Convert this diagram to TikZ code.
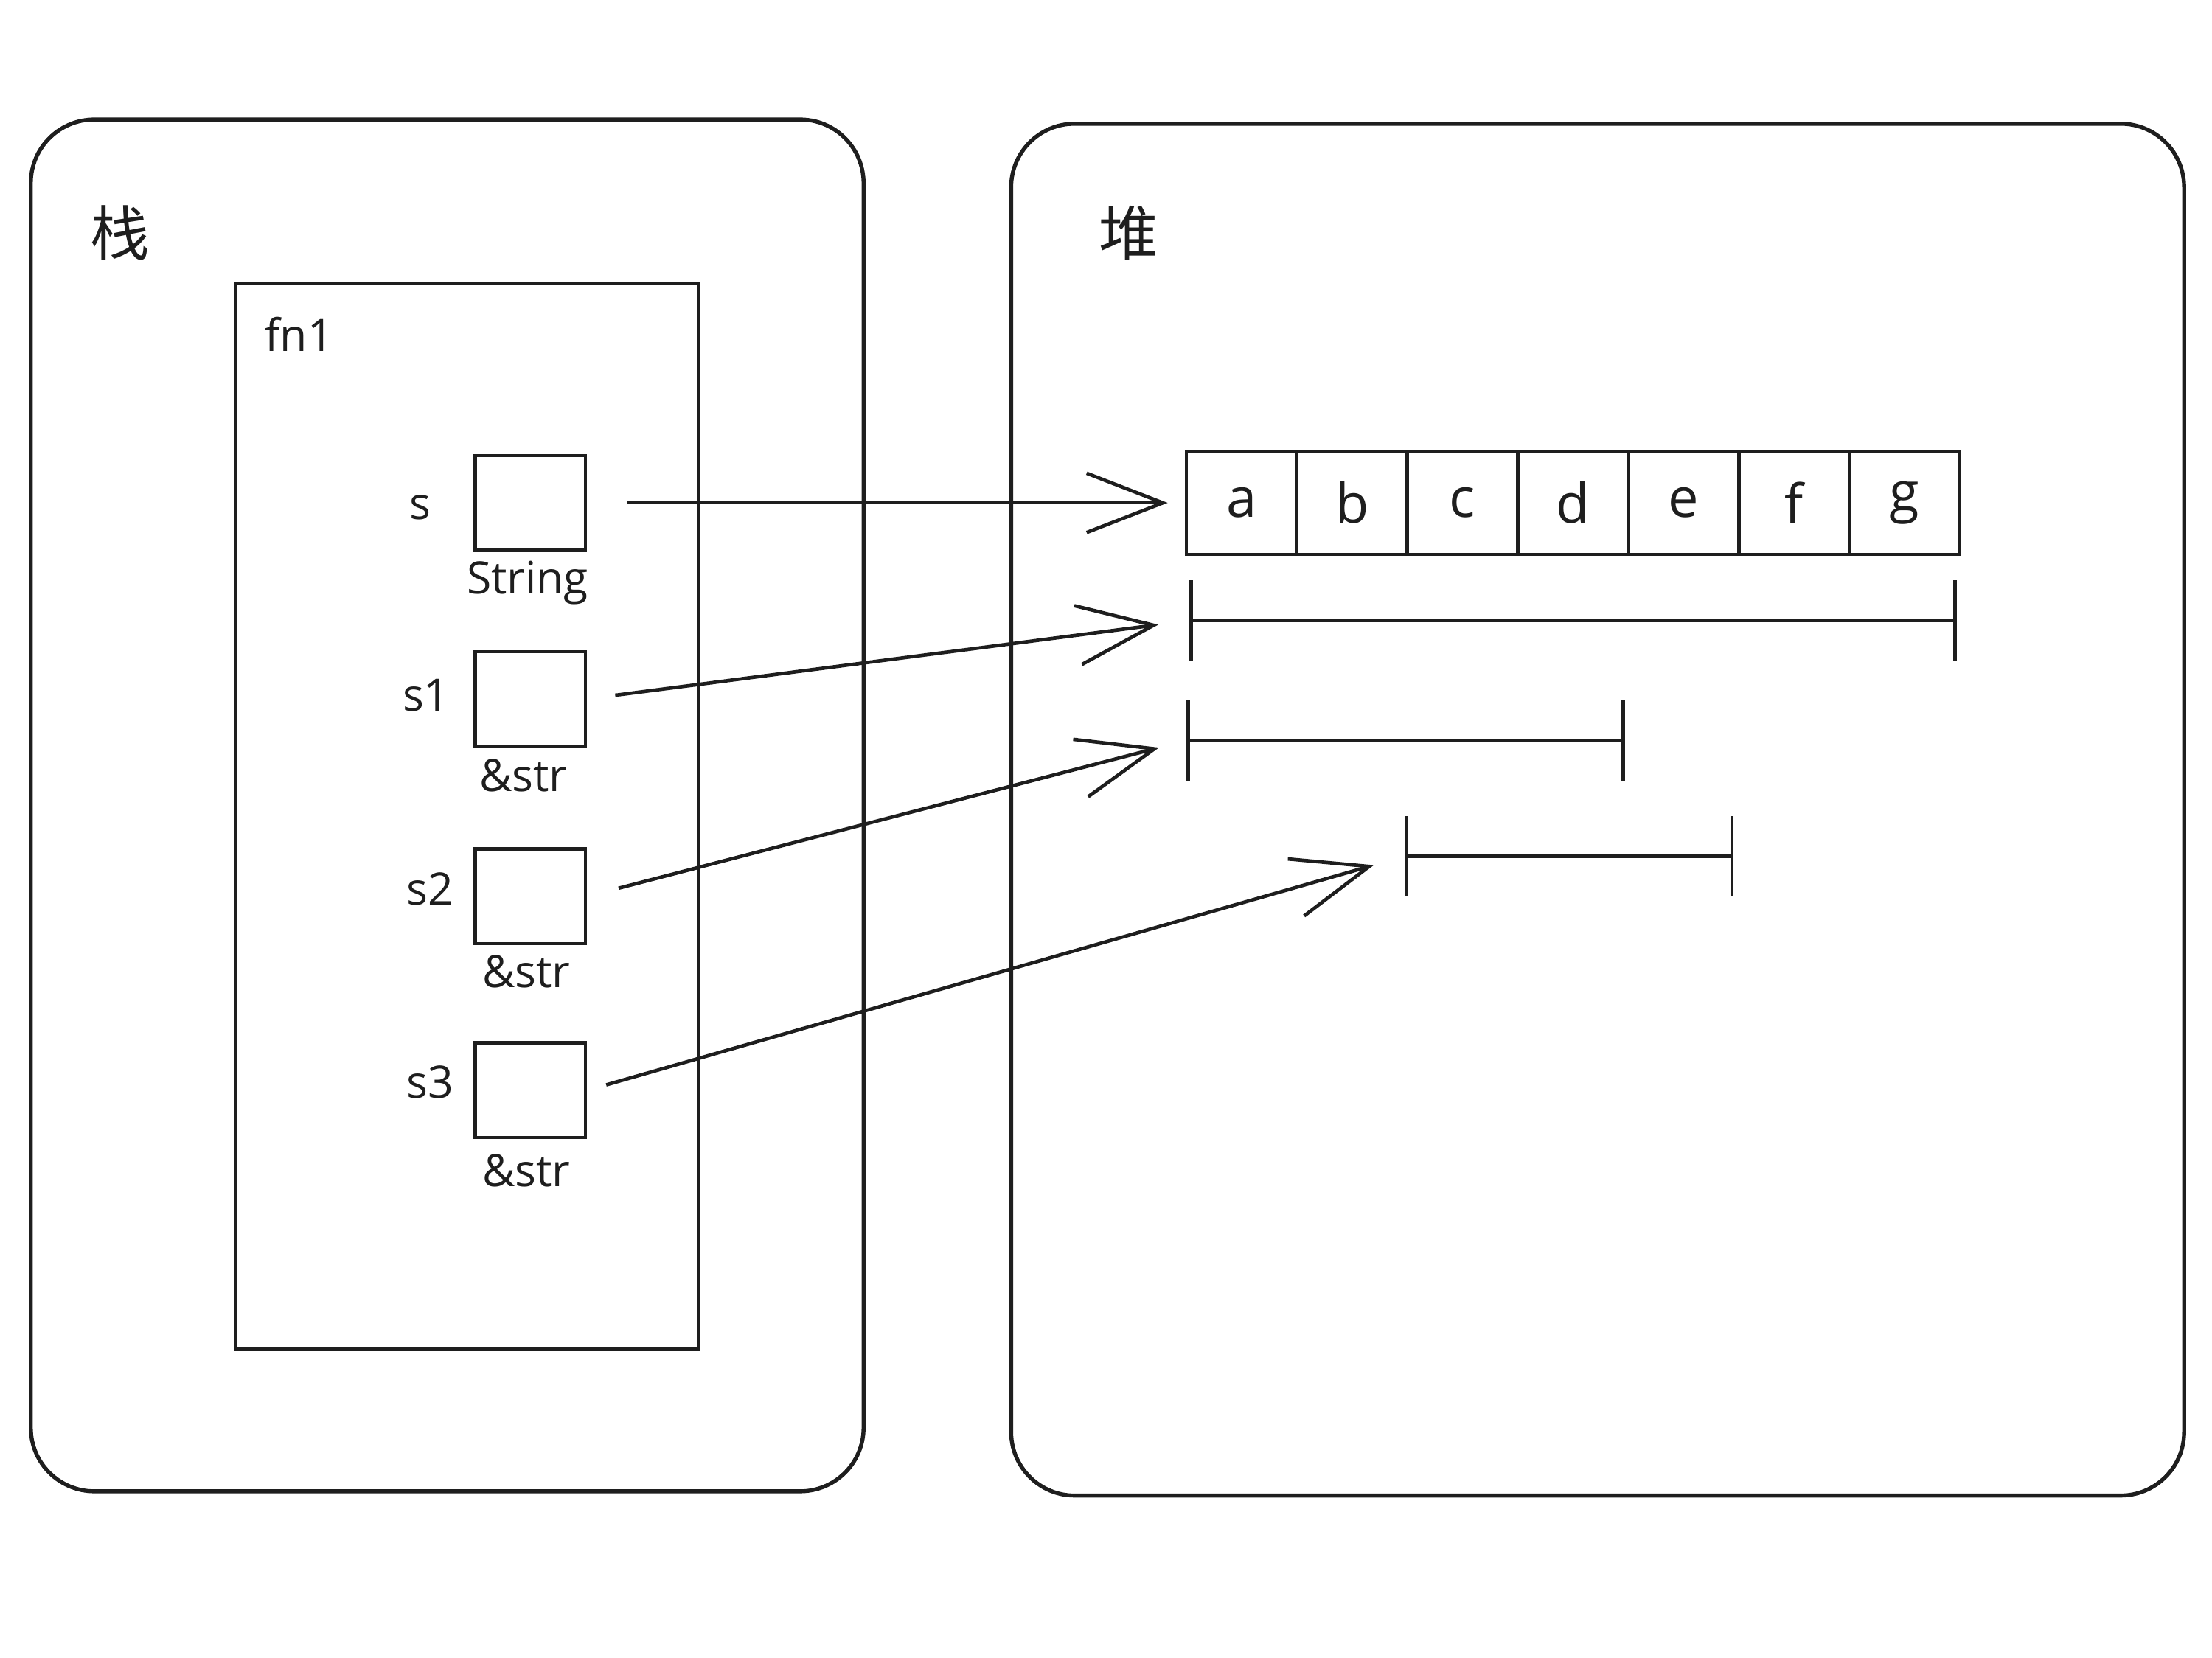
\documentclass[tikz,border=0pt]{standalone}
\usepackage{fontspec}
\setmainfont{Open Sans}
\newfontfamily\cjk{Noto Sans CJK SC}
\usetikzlibrary{arrows.meta}
\definecolor{ink}{HTML}{1E1E1E}
\begin{document}
\begin{tikzpicture}[x=0.01cm,y=-0.01cm,
  every node/.style={text=ink},
  panel/.style={draw=ink,line width=0.8pt,rounded corners=0.45cm,inner sep=0pt},
  frame/.style={draw=ink,line width=0.7pt,inner sep=0pt},
  slot/.style={draw=ink,line width=0.7pt,minimum width=0.78cm,minimum height=0.67cm,inner sep=0pt},
  cell/.style={draw=ink,line width=0.7pt,minimum width=0.783cm,minimum height=0.73cm,inner sep=0pt,font=\fontsize{11}{13}\selectfont},
  title/.style={font=\cjk\fontsize{12}{14}\selectfont},
  lbl/.style={font=\fontsize{9}{11}\selectfont,inner sep=1pt},
  spanline/.style={draw=ink,line width=0.7pt,{Bar[width=5.7mm]}-{Bar[width=5.7mm]}},
  ptr/.style={draw=ink,line width=0.7pt,-{Straight Barb[length=5.4mm,width=4.2mm,line width=0.7pt]}}
]
\useasboundingbox (0,0) rectangle (1568,1175);

% panels
\node[panel,minimum width=5.9cm,minimum height=9.72cm] (stack) at (317,571) {};
\node[panel,minimum width=8.31cm,minimum height=9.72cm] (heap) at (1132.5,574) {};
\node[title] (stacklbl) at (85,165) {栈};
\node[title] (heaplbl) at (800,165) {堆};

% function frame
\node[frame,minimum width=3.28cm,minimum height=7.55cm] (fn) at (331,578.5) {};
\node[lbl] (fnlbl) at (212,237) {fn1};

% slots
\node[slot] (s) at (376,356.5) {};
\node[slot] (s1) at (376,495.5) {};
\node[slot] (s2) at (376,635.5) {};
\node[slot] (s3) at (376,773) {};
\node[lbl] (sn) at (298,360) {s};
\node[lbl] (s1n) at (302,493) {s1};
\node[lbl] (s2n) at (305,630) {s2};
\node[lbl] (s3n) at (305,767) {s3};
\node[lbl] (st) at (374,413) {String};
\node[lbl] (s1t) at (371,550) {\&str};
\node[lbl] (s2t) at (373,689) {\&str};
\node[lbl] (s3t) at (373,830) {\&str};

% heap cells
\foreach \ch [count=\i from 0] in {a,b,c,d,e,f,g}{
  \node[cell] (c\ch) at ({880.15+78.3*\i},356.5) {\ch};
}

% ranges
\coordinate (r1a) at (843,440); \coordinate (r1b) at (1387,440);
\coordinate (r2a) at (841,525); \coordinate (r2b) at (1152,525);
\coordinate (r3a) at (996,607); \coordinate (r3b) at (1229,607);
\draw[spanline] (r1a) -- (r1b);
\draw[spanline] (r2a) -- (r2b);
\draw[spanline] (r3a) -- (r3b);

% pointers
\draw[ptr,shorten <=0.28cm,shorten >=0.12cm] (s.east) -- (ca.west);
\draw[ptr,shorten <=0.2cm,shorten >=0.22cm] (s1.east) -- (r1a);
\draw[ptr,shorten <=0.23cm,shorten >=0.2cm] (s2.east) -- (r2a);
\draw[ptr,shorten <=0.14cm,shorten >=0.23cm] (s3.east) -- (r3a);
\end{tikzpicture}
\end{document}
